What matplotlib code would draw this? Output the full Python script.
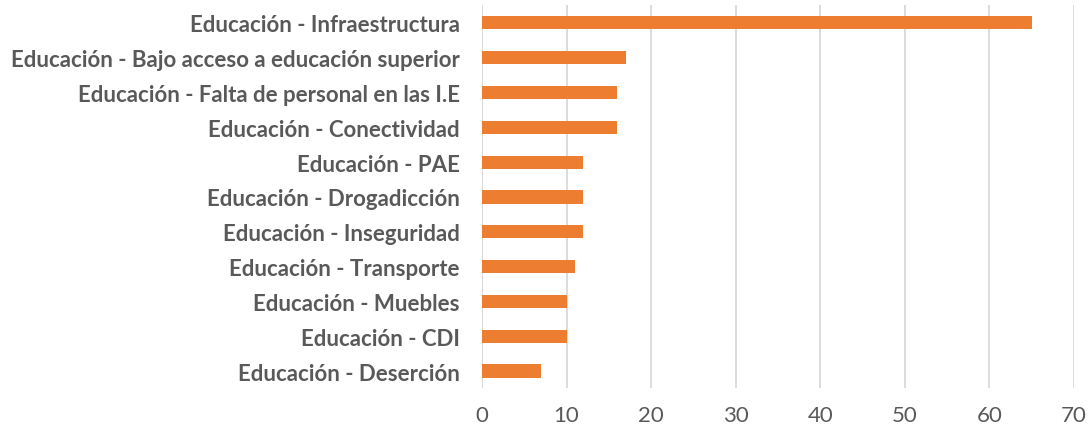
import matplotlib
matplotlib.use("Agg")
from matplotlib import pyplot as plt

categorias = [
    "Educación - Deserción",
    "Educación - CDI",
    "Educación - Muebles",
    "Educación - Transporte",
    "Educación - Inseguridad",
    "Educación - Drogadicción",
    "Educación - PAE",
    "Educación - Conectividad",
    "Educación - Falta de personal en las I.E",
    "Educación - Bajo acceso a educación superior",
    "Educación - Infraestructura",
]
valores = [7, 10, 10, 11, 12, 12, 12, 16, 16, 17, 65]
ticks_x = [0, 10, 20, 30, 40, 50, 60, 70]

naranja = "#ED7D31"
gris_texto = "#595959"
gris_grid = "#D9D9D9"

fig = plt.figure(figsize=(10.89, 4.31), dpi=100)
ax = fig.add_axes([0.4426, 0.0965, 0.9862 - 0.4426, 0.985 - 0.0965])

pos = list(range(len(categorias)))
ax.barh(pos, valores, height=0.38, color=naranja, zorder=3)

ax.set_xlim(0, 70)
ax.set_ylim(-0.5, len(categorias) - 0.5)
ax.set_xticks(ticks_x)
ax.set_xticklabels([str(t) for t in ticks_x], fontsize=16, color=gris_texto,
                   family="Lato")
ax.set_yticks(pos)
ax.set_yticklabels(categorias, fontsize=16, fontweight="bold", color=gris_texto,
                   family="Lato")

ax.grid(axis="x", color=gris_grid, linewidth=1.3, zorder=0)
ax.grid(axis="y", visible=False)
for s in ax.spines.values():
    s.set_visible(False)
ax.axvline(0, color=gris_grid, linewidth=1.3, zorder=1)
ax.tick_params(axis="both", length=0)
ax.tick_params(axis="x", pad=12)
ax.tick_params(axis="y", pad=16)

fig.savefig("out.png", dpi=100)
